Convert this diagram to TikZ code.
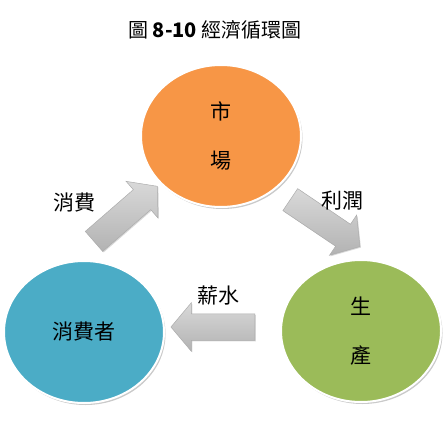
\documentclass[tikz,border=0pt]{standalone}
\usepackage{fontspec}
\setmainfont{Noto Sans CJK TC}
\usetikzlibrary{positioning, shapes.geometric, shapes.arrows, shadows}

\definecolor{marketorange}{HTML}{F79646}
\definecolor{consumerblue}{HTML}{4BACC6}
\definecolor{producegreen}{HTML}{9BBB59}

\begin{document}
\begin{tikzpicture}[
  x=1pt, y=-1pt,
  font=\fontsize{21pt}{24pt}\selectfont,
  sector/.style={ellipse, draw=white, line width=2pt, align=center,
                 minimum width=160pt, minimum height=142pt, inner sep=0pt,
                 drop shadow={shadow xshift=1.5pt, shadow yshift=-2pt,
                              opacity=0.35, fill=black!60}},
  flow/.style={single arrow, draw=gray!65, line width=0.5pt,
               single arrow head extend=11pt, single arrow tip angle=100,
               minimum height=84pt, minimum width=48pt,
               inner xsep=0pt, inner ysep=13pt,
               top color=gray!30, middle color=white, bottom color=gray!60,
               drop shadow={shadow xshift=1pt, shadow yshift=-1pt,
                            opacity=0.3, fill=black!50}},
  tag/.style={inner sep=0pt},
]
\useasboundingbox (0,0) rectangle (446,422);

\node[tag, font=\fontsize{20pt}{24pt}\selectfont] (title) at (215,30)
  {圖 \textbf{8-10} 經濟循環圖};

\node[sector, fill=marketorange] (market) at (221,136) {市\\[25pt]場};
\node[sector, fill=consumerblue] (consumer) at (84,332) {消費者};
\node[sector, fill=producegreen] (produce) at (361,331) {生\\[25pt]產};

\node[flow, rotate=41] (spend) at (121.5,217.5) {};
\node[flow, rotate=-34] (profit) at (320.5,220) {};
\node[flow, rotate=180] (wage) at (218.5,327) {};

\node[tag] (spendlabel) at (74,203) {消費};
\node[tag] (profitlabel) at (342,201) {利潤};
\node[tag] (wagelabel) at (218,296) {薪水};
\end{tikzpicture}
\end{document}
